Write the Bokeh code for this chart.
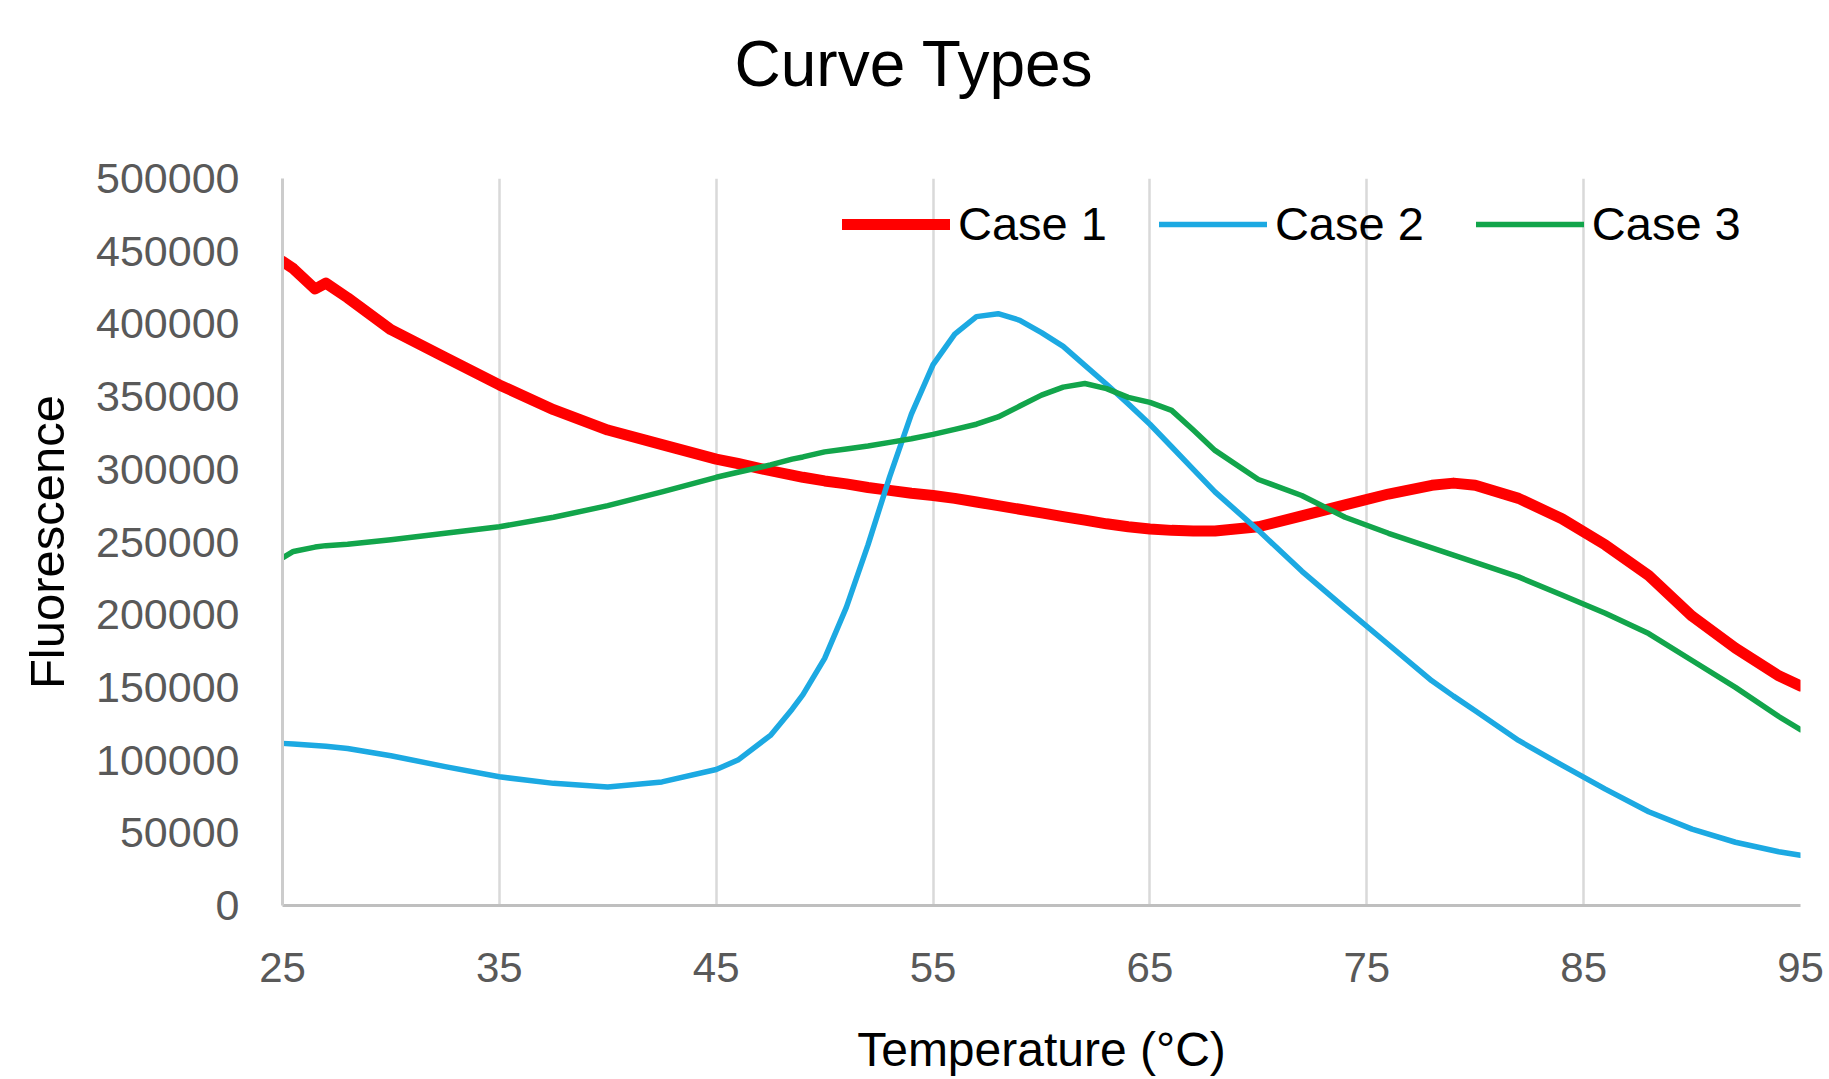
from bokeh.plotting import figure
from bokeh.models import Range1d, FixedTicker, BasicTickFormatter, Title
from bokeh.embed import file_html
from bokeh.resources import INLINE

# ---- data ----
temperature = [25, 25.5, 26.5, 27, 28, 30, 32.5, 35, 37.5, 40, 42.5, 45, 46, 47.5, 48.5, 49, 50,
               51, 52, 53, 54, 55, 56, 57, 58, 59, 60, 61, 62, 63, 64, 65, 66, 67, 68,
               70, 72, 74, 76, 78, 79, 80, 82, 84, 86, 88, 90, 92, 94, 95]

case1 = [443000, 438000, 424000, 428000, 418000, 396000, 377000, 358000, 341000, 327000,
         317000, 307000, 304000, 299000, 296000, 294500, 292000, 290000, 287500, 285500, 283500, 282000, 280000,
         277500, 275000, 272500, 270000, 267500, 265000, 262500, 260500, 259000, 258000,
         257500, 257500, 260500, 268000, 275500, 283000, 289000, 290500, 289000, 280000,
         266000, 248000, 227000, 199000, 177000, 158000, 151000]

case2 = [111500, 111000, 110000, 109500, 108000, 103000, 95500, 88500, 84000, 81500,
         85000, 93500, 100000, 117000, 135000, 145000, 170000, 205000, 248000, 295000, 338000, 372000, 393000,
         405000, 407000, 402500, 394000, 384500, 371500, 358500, 345000, 331000, 315500,
         300000, 284500, 258000, 230000, 204500, 179500, 154500, 144000, 134000, 113500,
         96500, 80000, 64500, 52500, 43500, 37000, 34500]

case3 = [239000, 243500, 246500, 247500, 248500, 251500, 256000, 260500, 267000, 275000,
         284500, 294500, 298000, 303000, 307000, 308500, 312000, 314000, 316000, 318500, 321000, 324000, 327500,
         331000, 336000, 343500, 351000, 356500, 359000, 355500, 349500, 346000, 340500,
         327000, 313000, 293000, 282000, 267000, 256000, 246000, 241000, 236000, 226000,
         213500, 201000, 187000, 168500, 150000, 130000, 121000]

series_names = ["Case 1", "Case 2", "Case 3"]
series_colors = ["#FF0000", "#1CA9E2", "#12A54B"]
series_widths = [11, 5.5, 5.5]

x_ticks = [25, 35, 45, 55, 65, 75, 85, 95]
y_ticks = [0, 50000, 100000, 150000, 200000, 250000, 300000, 350000, 400000, 450000, 500000]

chart_title = "Curve Types"

FONT = "Liberation Sans"

p = figure(width=1829, height=1079, output_backend="svg", toolbar_location=None,
           x_range=Range1d(25, 95), y_range=Range1d(0, 500000),
           min_border_left=282, min_border_right=29, min_border_top=178, min_border_bottom=174)
p.title_location = None

for y, name, color, w in zip([case1, case2, case3], series_names, series_colors, series_widths):
    p.line(temperature, y, line_color=color, line_width=w, legend_label=name,
           line_cap="round", line_join="round")

# spacer panel next to the frame, then the real title further out
spacer = Title(text=" ", text_font=FONT, text_font_size="12px", standoff=63)
p.add_layout(spacer, "above")
main_title = Title(text=chart_title, text_font=FONT, text_font_size="64px",
                   text_font_style="normal", text_color="#000000",
                   align="left", offset=452, standoff=0)
p.add_layout(main_title, "above")

# x axis
xa = p.xaxis[0]
xa.ticker = FixedTicker(ticks=x_ticks)
xa.axis_label = "Temperature (°C)"
xa.axis_label_text_font = FONT
xa.axis_label_text_font_size = "48px"
xa.axis_label_text_font_style = "normal"
xa.axis_label_text_color = "#000000"
xa.axis_label_standoff = 38
xa.major_label_text_font = FONT
xa.major_label_text_font_size = "42px"
xa.major_label_text_color = "#595959"
xa.major_label_standoff = 41
xa.major_tick_line_color = None
xa.minor_tick_line_color = None
xa.axis_line_color = "#BFBFBF"
xa.axis_line_width = 3

# y axis
ya = p.yaxis[0]
ya.ticker = FixedTicker(ticks=y_ticks)
ya.formatter = BasicTickFormatter(use_scientific=False)
ya.axis_label = "Fluorescence"
ya.axis_label_text_font = FONT
ya.axis_label_text_font_size = "49px"
ya.axis_label_text_font_style = "normal"
ya.axis_label_text_color = "#000000"
ya.axis_label_standoff = 19
ya.major_label_text_font = FONT
ya.major_label_text_font_size = "43px"
ya.major_label_text_color = "#595959"
ya.major_label_standoff = 37
ya.major_tick_line_color = None
ya.minor_tick_line_color = None
ya.axis_line_color = "#CCCCCC"
ya.axis_line_width = 3

# grid
p.xgrid.grid_line_color = "#D9D9D9"
p.xgrid.grid_line_width = 2.5
p.ygrid.grid_line_color = None
p.outline_line_color = None

# legend
lg = p.legend[0]
lg.orientation = "horizontal"
lg.location = (560, 654)
lg.background_fill_alpha = 0
lg.border_line_color = None
lg.padding = 0
lg.margin = 0
lg.spacing = 52
lg.label_standoff = 8
lg.glyph_width = 108
lg.glyph_height = 50
lg.label_height = 50
lg.label_text_font = FONT
lg.label_text_font_size = "47px"
lg.label_text_color = "#000000"

open("out.html", "w").write(file_html(p, INLINE))
